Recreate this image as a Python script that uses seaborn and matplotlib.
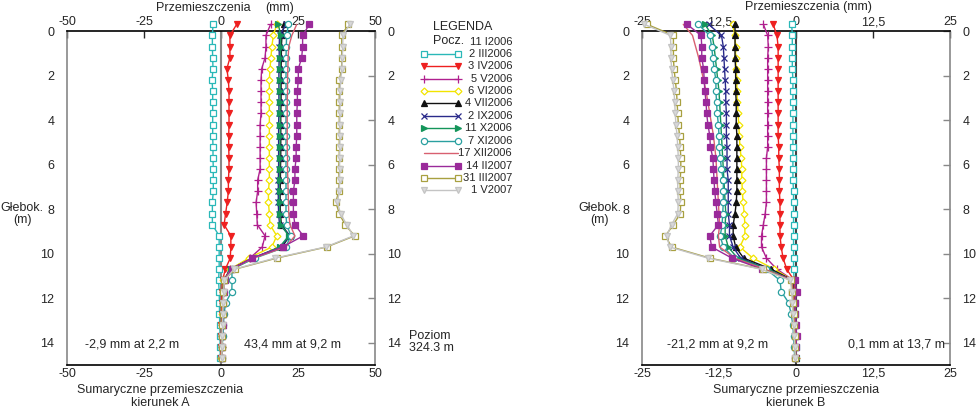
import numpy as np
import pandas as pd
import matplotlib
matplotlib.use("Agg")
import matplotlib.pyplot as plt
import seaborn as sns

# depths of readings (m)
depth = [-0.3, 0.2, 0.7, 1.2, 1.7, 2.2, 2.7, 3.2, 3.7, 4.2, 4.7, 5.2, 5.7, 6.2, 6.7,
         7.2, 7.7, 8.2, 8.7, 9.2, 9.7, 10.2, 10.7, 11.2, 11.7, 12.2, 12.7, 13.2,
         13.7, 14.2, 14.7]

dates = ["2 III2006", "3 IV2006", "5 V2006", "6 VI2006", "4 VII2006", "2 IX2006",
         "11 X2006", "7 XI2006", "17 XII2006", "14 II2007", "31 III2007", "1 V2007"]

# kierunek A (mm)
a_0203 = [-2.6, -2.8, -2.8, -2.7, -2.6, -2.9, -2.7, -2.7, -2.7, -2.7, -2.7, -2.6, -2.6,
          -2.5, -2.5, -2.5, -2.8, -2.8, -2.8, -0.6, -0.6, -0.6, -0.6, -0.8, -0.6, -0.5,
          -0.5, -0.4, -0.3, -0.3, -0.2]
a_0304 = [5.1, 2.9, 2.9, 2.9, 1.9, 2.4, 2.6, 2.6, 2.6, 2.6, 2.5, 2.5, 2.6, 2.6, 2.4, 2.4,
          2.0, 1.5, 1.0, 3.2, 3.2, 3.0, 1.4, 0.5, 0.3, 0.2, 0.2, 0.1, 0.1, 0.0, 0.0]
a_0505 = [16.1, 14.6, 14.6, 14.3, 13.2, 13.0, 13.0, 13.0, 13.0, 12.7, 12.7, 12.7, 12.7,
          12.7, 11.9, 11.9, 11.4, 11.6, 11.8, 14.3, 13.4, 9.4, 3.0, 1.0, 0.8, 0.6, 0.5,
          0.4, 0.3, 0.2, 0.1]
a_0606 = [18.1, 17.0, 16.5, 16.2, 15.9, 15.7, 15.7, 15.7, 15.7, 15.7, 15.7, 15.7, 15.7,
          15.7, 15.7, 15.4, 15.4, 15.7, 15.9, 18.1, 16.5, 9.0, 3.0, 0.8, 0.6, 0.5, 0.4,
          0.4, 0.3, 0.2, 0.1]
a_0407 = [20.5, 19.8, 19.6, 19.6, 19.5, 19.5, 19.5, 19.5, 19.4, 19.4, 19.4, 19.4, 19.4,
          19.3, 19.3, 19.2, 19.2, 19.3, 19.6, 22.3, 19.8, 10.5, 3.2, 1.0, 0.7, 0.6, 0.5,
          0.5, 0.4, 0.3, 0.2]
a_0209 = [21.2, 19.0, 18.9, 18.9, 18.8, 18.8, 18.8, 18.8, 18.8, 18.7, 18.7, 18.7, 18.7,
          18.7, 18.6, 18.6, 18.6, 18.7, 19.0, 22.5, 19.2, 10.2, 3.0, 0.9, 0.7, 0.6, 0.5,
          0.5, 0.4, 0.3, 0.2]
a_1110 = [18.6, 19.4, 19.4, 19.3, 19.3, 19.3, 19.2, 19.2, 19.2, 19.2, 19.2, 19.1, 19.1,
          19.1, 19.0, 19.0, 19.0, 19.1, 19.4, 22.0, 19.0, 10.8, 3.4, 1.1, 0.8, 0.7, 0.6,
          0.5, 0.4, 0.3, 0.2]
a_0711 = [21.9, 21.3, 21.2, 21.1, 21.1, 21.1, 21.1, 21.1, 21.1, 21.1, 21.1, 21.1, 21.1,
          21.1, 21.1, 21.1, 21.1, 21.1, 21.3, 22.7, 21.0, 11.0, 3.5, 3.6, 3.5, 1.5, 1.0,
          0.8, 0.6, 0.4, 0.3]
a_1712 = [24.6, 23.0, 22.0, 21.8, 21.7, 21.6, 21.6, 21.5, 21.5, 21.5, 21.5, 21.5, 21.6,
          21.6, 21.7, 21.8, 21.9, 22.0, 22.4, 24.0, 21.0, 10.5, 3.3, 1.0, 0.8, 0.6, 0.5,
          0.5, 0.4, 0.3, 0.2]
a_1402 = [28.7, 26.5, 26.5, 26.2, 25.1, 25.1, 24.8, 24.8, 24.6, 24.6, 24.6, 24.4, 24.4,
          24.0, 24.0, 23.5, 23.5, 23.5, 24.0, 26.7, 20.0, 10.0, 3.5, 1.2, 0.9, 0.7, 0.6,
          0.5, 0.4, 0.3, 0.2]
a_3103 = [41.3, 39.2, 39.2, 39.2, 39.2, 38.4, 38.4, 38.4, 38.4, 38.4, 38.4, 38.4, 38.4,
          38.2, 38.4, 38.2, 37.3, 38.4, 40.3, 43.4, 34.3, 18.1, 4.5, 1.0, 0.8, 0.6, 0.5,
          0.4, 0.4, 0.3, 0.2]
a_0105 = [41.8, 39.6, 39.5, 39.4, 39.3, 38.8, 38.7, 38.7, 38.6, 38.6, 38.6, 38.6, 38.5,
          38.5, 38.5, 38.4, 37.8, 38.8, 40.8, 43.0, 34.0, 17.5, 4.2, 1.1, 0.9, 0.7, 0.6,
          0.5, 0.4, 0.3, 0.3]

# kierunek B (mm)
b_0203 = [-0.7, -0.6, -0.6, -0.6, -0.6, -0.5, -0.5, -0.5, -0.5, -0.5, -0.5, -0.5, -0.5,
          -0.5, -0.5, -0.4, -0.4, -0.4, -0.4, -0.4, -0.4, -0.4, -0.4, -0.3, -0.3, -0.2,
          -0.2, -0.1, -0.1, 0.0, 0.0]
b_0304 = [-3.7, -3.1, -2.9, -2.9, -2.9, -2.9, -2.9, -2.9, -2.9, -2.9, -2.9, -2.8, -2.8,
          -2.7, -2.7, -2.7, -2.6, -2.6, -2.6, -2.6, -2.4, -2.1, -1.5, -0.3, -0.3, -0.2,
          -0.2, -0.1, -0.1, -0.1, 0.0]
b_0505 = [-5.3, -4.6, -4.5, -4.6, -4.6, -4.6, -4.6, -4.6, -4.6, -4.6, -4.6, -4.6, -4.8,
          -4.8, -4.8, -4.8, -4.8, -5.0, -5.3, -5.6, -5.6, -4.8, -3.1, -0.4, -0.4, -0.3,
          -0.3, -0.2, -0.1, -0.1, 0.0]
b_0606 = [-10.3, -9.9, -9.8, -9.8, -9.7, -9.6, -9.6, -9.5, -9.4, -9.3, -9.2, -9.1, -8.9,
          -8.8, -8.8, -8.7, -8.6, -8.4, -8.3, -8.3, -9.1, -7.0, -3.5, -0.5, -0.4, -0.4,
          -0.3, -0.2, -0.1, -0.1, 0.0]
b_0407 = [-9.9, -9.9, -9.9, -9.9, -9.8, -9.8, -9.8, -9.7, -9.7, -9.7, -9.6, -9.6, -9.6,
          -9.6, -9.6, -9.6, -9.7, -9.9, -10.2, -10.2, -9.8, -8.5, -4.0, -0.5, -0.4, -0.4,
          -0.3, -0.2, -0.1, -0.1, 0.0]
b_0209 = [-14.2, -12.1, -11.8, -11.7, -11.6, -11.5, -11.4, -11.4, -11.3, -11.3, -11.3,
          -11.2, -11.2, -11.2, -11.0, -11.0, -11.0, -11.0, -10.8, -10.8, -10.2, -9.0,
          -4.5, -0.6, -0.5, -0.4, -0.3, -0.2, -0.1, -0.1, 0.0]
b_1110 = [-14.8, -13.6, -13.3, -13.1, -12.9, -12.7, -12.5, -12.4, -12.3, -12.2, -12.1,
          -12.0, -11.9, -11.8, -11.7, -11.6, -11.5, -11.4, -11.5, -11.5, -11.0, -9.5,
          -4.5, -0.7, -0.6, -0.5, -0.4, -0.3, -0.2, -0.1, 0.0]
b_0711 = [-15.9, -14.0, -13.7, -13.5, -13.3, -13.0, -13.0, -12.9, -12.8, -12.6, -12.5,
          -12.5, -12.3, -12.1, -11.8, -11.8, -11.8, -11.9, -12.0, -12.3, -11.8, -10.0,
          -4.8, -2.6, -2.4, -1.2, -0.8, -0.5, -0.4, -0.3, -0.2]
b_1712 = [-18.3, -16.8, -16.3, -15.8, -15.4, -15.0, -14.6, -14.3, -14.0, -13.7, -13.4,
          -13.2, -13.0, -12.9, -12.8, -12.7, -12.6, -12.5, -12.4, -12.6, -12.4, -10.0,
          -5.0, -0.6, -0.5, -0.4, -0.3, -0.2, -0.1, -0.1, 0.0]
b_1402 = [-17.7, -15.4, -15.3, -15.3, -15.0, -14.9, -14.8, -14.6, -14.5, -14.3, -14.0,
          -13.9, -13.5, -13.4, -13.3, -13.2, -13.0, -12.8, -12.6, -14.0, -13.7, -10.4,
          -5.5, -0.2, 0.1, -0.2, -0.1, 0.0, 0.1, 0.0, -0.1]
b_3103 = [-24.2, -19.9, -19.9, -19.9, -19.8, -19.6, -19.4, -19.3, -19.2, -19.1, -18.9,
          -18.8, -18.7, -18.7, -18.8, -18.8, -18.7, -18.8, -19.9, -21.2, -20.2, -14.0,
          -5.4, -0.8, -0.6, -0.5, -0.4, -0.3, -0.2, -0.1, -0.1]
b_0105 = [-24.6, -20.4, -20.3, -20.3, -20.2, -20.0, -19.8, -19.7, -19.6, -19.5, -19.3,
          -19.2, -19.1, -19.1, -19.2, -19.2, -19.1, -19.2, -20.2, -21.0, -20.5, -14.3,
          -5.6, -0.9, -0.7, -0.6, -0.5, -0.4, -0.3, -0.2, -0.1]

series_a = [a_0203, a_0304, a_0505, a_0606, a_0407, a_0209, a_1110, a_0711, a_1712,
            a_1402, a_3103, a_0105]
series_b = [b_0203, b_0304, b_0505, b_0606, b_0407, b_0209, b_1110, b_0711, b_1712,
            b_1402, b_3103, b_0105]

# line styles per reading: color, marker, face, size
styles = [
    dict(color="#2ab8b8", marker="s", mfc="white", ms=3.8),
    dict(color="#ee2020", marker="v", mfc="#ee2020", ms=4.2),
    dict(color="#b0208f", marker="+", mfc="#b0208f", ms=5.5),
    dict(color="#f2e400", marker="D", mfc="white", ms=3.5),
    dict(color="#111111", marker="^", mfc="#111111", ms=4.0),
    dict(color="#2a2a8a", marker="x", mfc="#2a2a8a", ms=4.0),
    dict(color="#14955a", marker=">", mfc="#14955a", ms=4.0),
    dict(color="#2aa0a0", marker="o", mfc="white", ms=4.5),
    dict(color="#d86070", marker="", mfc="#d86070", ms=0),
    dict(color="#9a2a9a", marker="s", mfc="#9a2a9a", ms=3.8),
    dict(color="#a8a040", marker="s", mfc="white", ms=3.8),
    dict(color="#c4c4c4", marker="v", mfc="#d8d8d8", ms=4.0),
]

sns.set_theme(style="white")
plt.rcParams["font.family"] = ["Liberation Sans", "DejaVu Sans"]
plt.rcParams["font.size"] = 9

fig = plt.figure(figsize=(9.78, 4.08), dpi=100)
ax_a = fig.add_axes([67 / 978, 1 - 365 / 408, 308 / 978, 334 / 408])
ax_b = fig.add_axes([642 / 978, 1 - 365 / 408, 308 / 978, 334 / 408])


def draw_panel(ax, series, lim, ticks, ticklabels, zero_color):
    ax.axvline(0, color=zero_color, lw=1.5, zorder=1)
    for vals, st in zip(series, styles):
        sns.lineplot(x=vals, y=depth, ax=ax, sort=False, estimator=None,
                     color=st["color"], lw=1.0, marker=st["marker"] or None,
                     markersize=st["ms"], markerfacecolor=st["mfc"],
                     markeredgecolor=st["color"], markeredgewidth=0.9,
                     clip_on=False, zorder=3)
    ax.set_xlim(-lim, lim)
    ax.set_ylim(15, 0)
    ax.set_xticks(ticks)
    ax.set_xticklabels(ticklabels)
    ax.set_yticks(range(0, 15, 2))
    ax.set_xlabel("")
    ax.set_ylabel("")
    ax.tick_params(axis="both", direction="in", length=5, width=1, labelsize=9,
                   top=True, right=True, labeltop=True, labelright=True)
    ax.tick_params(axis="y", color="#888888", pad=9)
    ax.tick_params(axis="x", pad=2)
    for s in ["top", "bottom"]:
        ax.spines[s].set_color("black")
        ax.spines[s].set_linewidth(1.2)
    for s in ["left", "right"]:
        ax.spines[s].set_color("#888888")
        ax.spines[s].set_linewidth(1.2)
    ax.grid(False)
    if ax.get_legend():
        ax.get_legend().remove()


draw_panel(ax_a, series_a, 50, [-50, -25, 0, 25, 50],
           ["-50", "-25", "0", "25", "50"], "#888888")
draw_panel(ax_b, series_b, 25, [-25, -12.5, 0, 12.5, 25],
           ["-25", "-12,5", "0", "12,5", "25"], "#444444")

# texts around panels
fs = 9
fig.text(203 / 978, 1 - 8 / 408, "Przemieszczenia", ha="center", va="center", fontsize=fs)
fig.text(280 / 978, 1 - 8 / 408, "(mm)", ha="center", va="center", fontsize=fs)
fig.text(808 / 978, 1 - 7 / 408, "Przemieszczenia (mm)", ha="center", va="center", fontsize=fs)
for cx, kier in [(160, "kierunek A"), (796, "kierunek B")]:
    fig.text(cx / 978, 1 - 390 / 408, "Sumaryczne przemieszczenia", ha="center", va="center", fontsize=fs)
    fig.text(cx / 978, 1 - 403 / 408, kier, ha="center", va="center", fontsize=fs)
for gx in [22, 600]:
    fig.text(gx / 978, 1 - 214 / 408, "Głebok.\n(m)", ha="center", va="center",
             fontsize=fs, linespacing=1.0)

ax_a.text(-44, 14.1, "-2,9 mm at 2,2 m", ha="left", va="center", fontsize=fs)
ax_a.text(7.5, 14.1, "43,4 mm at 9,2 m", ha="left", va="center", fontsize=fs)
ax_b.text(-21, 14.1, "-21,2 mm at 9,2 m", ha="left", va="center", fontsize=fs)
ax_b.text(8.5, 14.1, "0,1 mm at 13,7 m", ha="left", va="center", fontsize=fs)
fig.text(409 / 978, 1 - 342 / 408, "Poziom\n324.3 m", ha="left", va="center",
         fontsize=fs, linespacing=1.0)

# legend
lfs = 8
lax = fig.add_axes([420 / 978, 1 - 200 / 408, 95 / 978, 180 / 408])
lax.set_xlim(0, 95)
lax.set_ylim(200, 20)
lax.axis("off")
lax.text(13, 27, "LEGENDA", ha="left", va="center", fontsize=fs)
lax.text(13, 41, "Pocz.", ha="left", va="center", fontsize=fs)
lax.text(92, 42, "11 I2006", ha="right", va="center", fontsize=lfs)
rows = [54, 66, 79, 91, 103, 116, 128, 141, 153, 166, 178, 190]
for yy, lab, st in zip(rows, dates, styles):
    lax.plot([4, 38], [yy, yy], color=st["color"], lw=1.0, marker=st["marker"] or None,
             markersize=st["ms"], markerfacecolor=st["mfc"],
             markeredgecolor=st["color"], markeredgewidth=0.9)
    lax.text(92, yy, lab, ha="right", va="center", fontsize=lfs)

fig.savefig("out.png", dpi=100)
